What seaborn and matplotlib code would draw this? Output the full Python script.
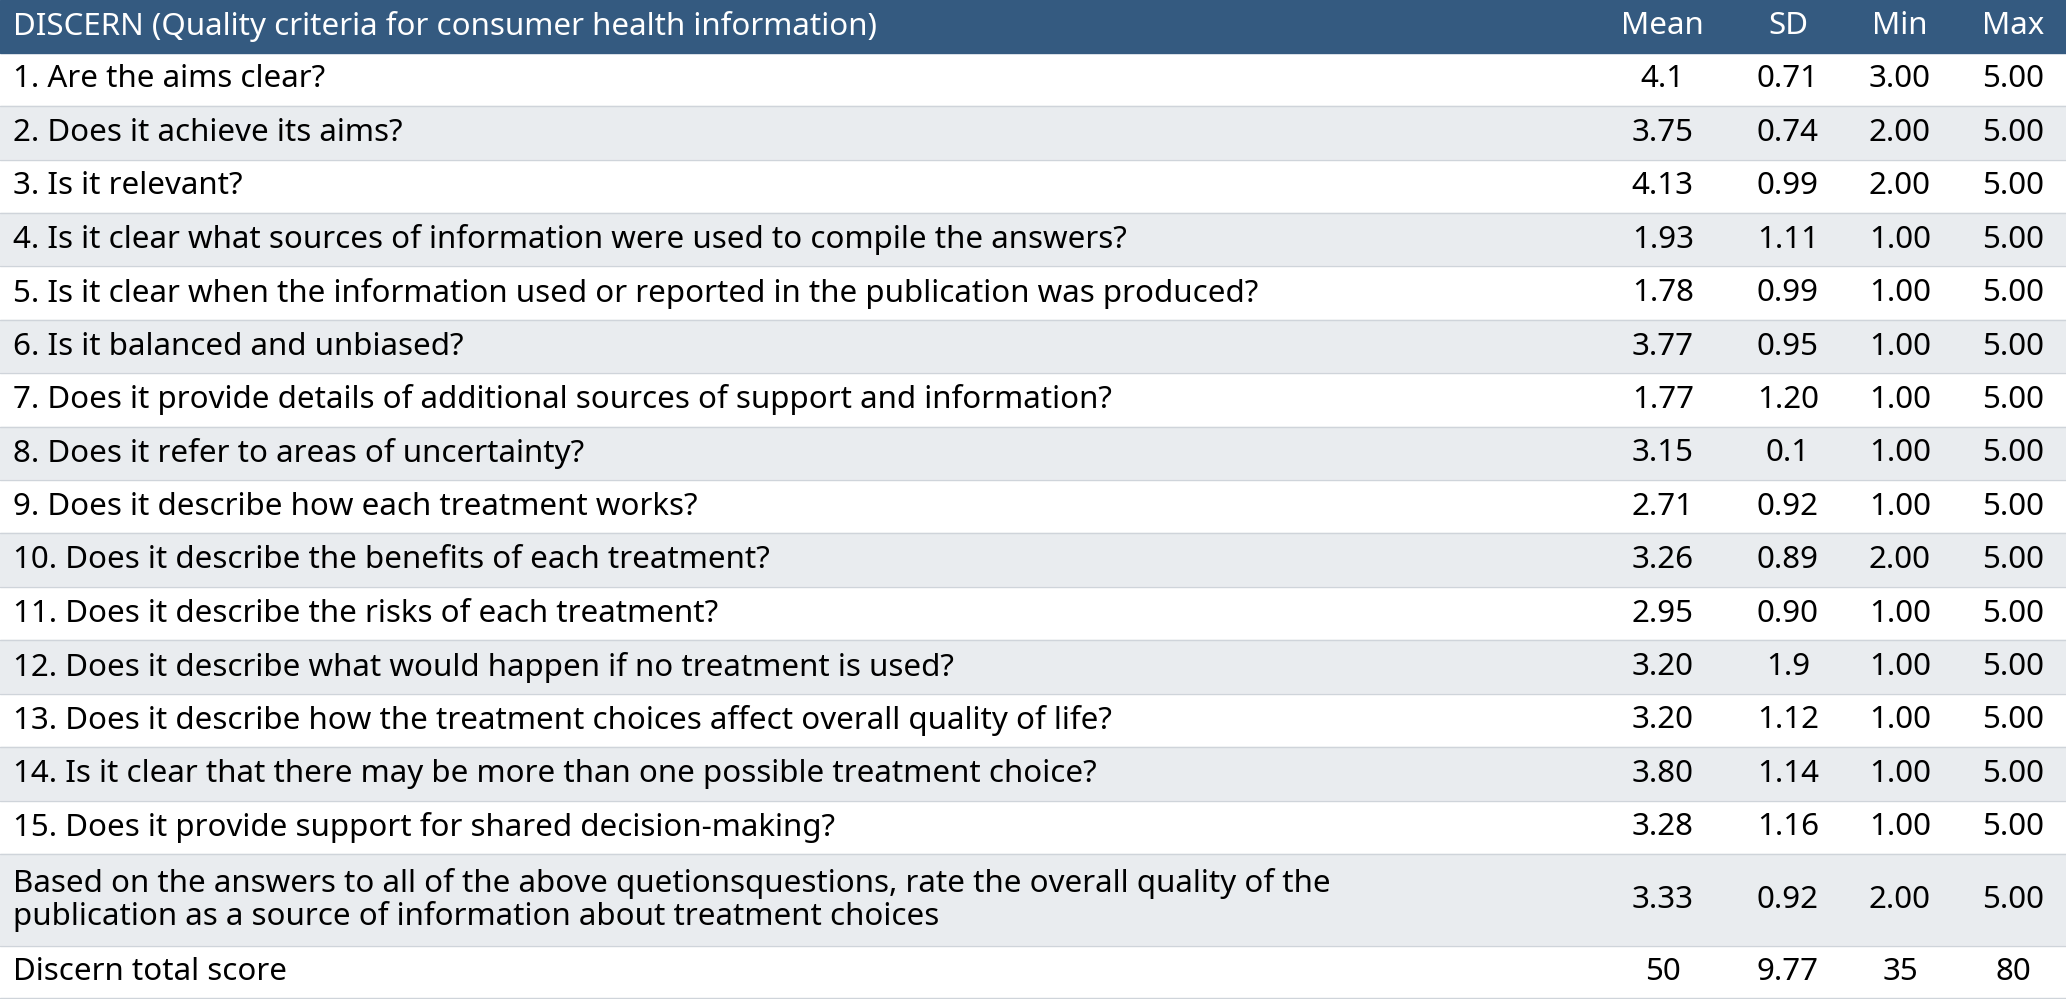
import matplotlib
matplotlib.use("Agg")
import matplotlib.pyplot as plt
import seaborn as sns

sns.set_theme(style="white")
plt.rcParams['font.family'] = ['Noto Sans', 'DejaVu Sans']

header = ["DISCERN (Quality criteria for consumer health information)", "Mean", "SD", "Min", "Max"]
questions = [
    "1. Are the aims clear?",
    "2. Does it achieve its aims?",
    "3. Is it relevant?",
    "4. Is it clear what sources of information were used to compile the answers?",
    "5. Is it clear when the information used or reported in the publication was produced?",
    "6. Is it balanced and unbiased?",
    "7. Does it provide details of additional sources of support and information?",
    "8. Does it refer to areas of uncertainty?",
    "9. Does it describe how each treatment works?",
    "10. Does it describe the benefits of each treatment?",
    "11. Does it describe the risks of each treatment?",
    "12. Does it describe what would happen if no treatment is used?",
    "13. Does it describe how the treatment choices affect overall quality of life?",
    "14. Is it clear that there may be more than one possible treatment choice?",
    "15. Does it provide support for shared decision-making?",
    "Based on the answers to all of the above quetionsquestions, rate the overall quality of the\npublication as a source of information about treatment choices",
    "Discern total score",
]
means = ["4.1", "3.75", "4.13", "1.93", "1.78", "3.77", "1.77", "3.15", "2.71", "3.26", "2.95", "3.20", "3.20", "3.80", "3.28", "3.33", "50"]
sds = ["0.71", "0.74", "0.99", "1.11", "0.99", "0.95", "1.20", "0.1", "0.92", "0.89", "0.90", "1.9", "1.12", "1.14", "1.16", "0.92", "9.77"]
mins = ["3.00", "2.00", "2.00", "1.00", "1.00", "1.00", "1.00", "1.00", "1.00", "2.00", "1.00", "1.00", "1.00", "1.00", "1.00", "2.00", "35"]
maxs = ["5.00"] * 16 + ["80"]

fig = plt.figure(figsize=(20.66, 9.99), dpi=100)
ax = fig.add_axes([0, 0, 1, 1])
ax.set_xlim(0, 1568)
ax.set_ylim(758, 0)
ax.axis("off")

col_x = [10, 1262, 1357, 1442, 1528]
fs = 22.5

# header
ax.axhspan(0, 40, color="#345a80")
ax.text(col_x[0], 20, header[0], color="white", fontweight="bold", fontsize=fs, va="center", ha="left")
for x, h in zip(col_x[1:], header[1:]):
    ax.text(x, 20, h, color="white", fontweight="bold", fontsize=fs, va="center", ha="center")

# rows
bounds = [40 + i * 40.53 for i in range(16)] + [718, 757]
for i, q in enumerate(questions):
    y0, y1 = bounds[i], bounds[i + 1]
    bg = "#e9ecef" if i % 2 == 1 else "white"
    ax.axhspan(y0, y1, color=bg, zorder=0)
    ax.axhline(y1, color="#cfd4da", lw=1, zorder=1)
    yc = (y0 + y1) / 2
    bold = "bold" if i == len(questions) - 1 else "normal"
    ax.text(col_x[0], yc, q, fontsize=fs, va="center", ha="left", color="black",
            fontweight=bold, linespacing=1.1)
    for x, v in zip(col_x[1:], [means[i], sds[i], mins[i], maxs[i]]):
        ax.text(x, yc, v, fontsize=fs, va="center", ha="center", color="black")

fig.savefig("out.png", dpi=100)
